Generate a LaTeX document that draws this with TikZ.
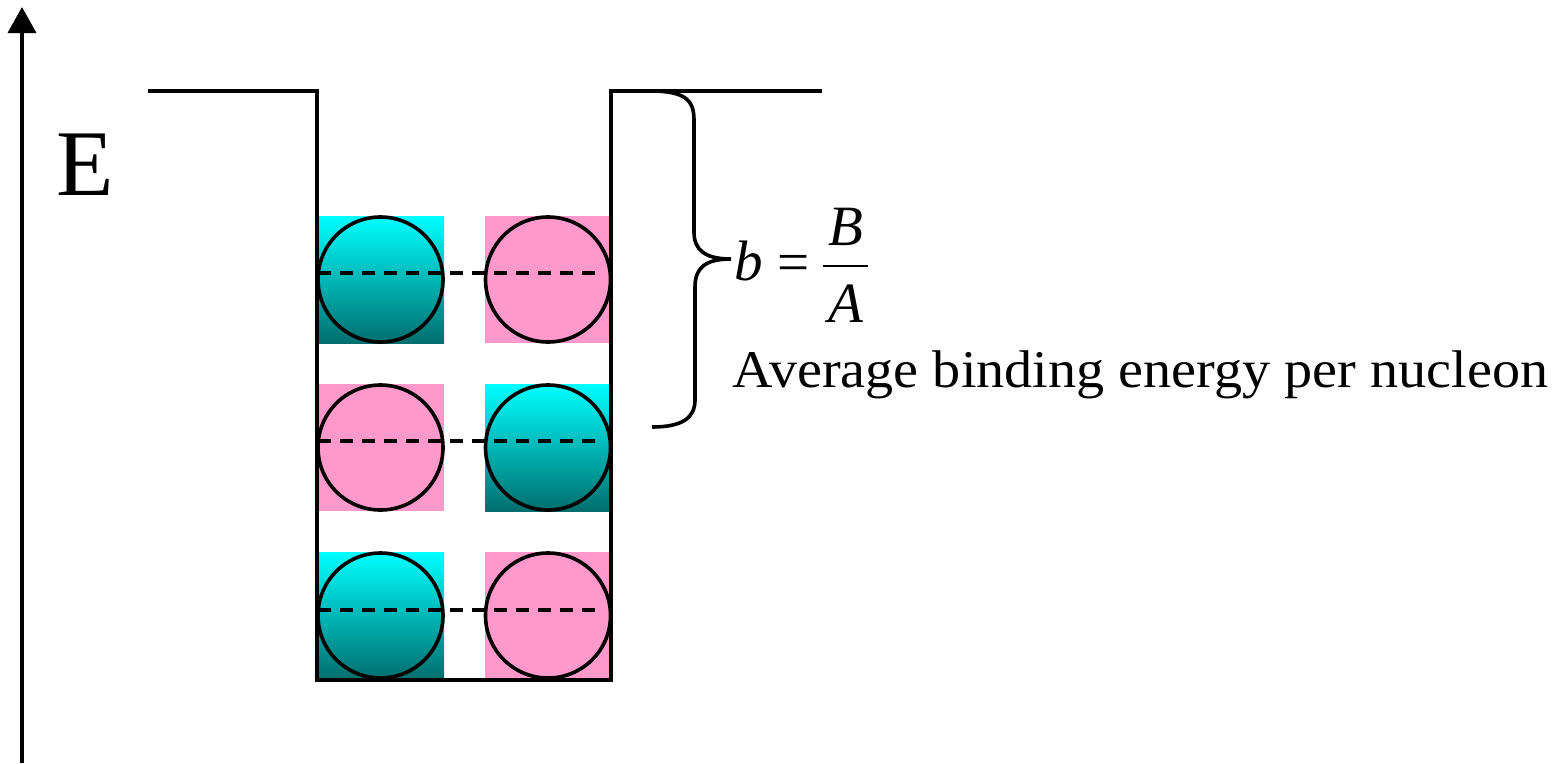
\documentclass[tikz,border=0pt]{standalone}
\usepackage{fontspec}
\setmainfont{Liberation Serif}
\usetikzlibrary{arrows.meta}
\definecolor{pinkfill}{HTML}{FF99CC}
\definecolor{tealmid}{RGB}{0,200,200}
\definecolor{tealdark}{RGB}{0,110,110}
\begin{document}
\begin{tikzpicture}[x=1pt,y=-1pt,line width=3.6pt,
  cyanbox/.style={top color=cyan,middle color=tealmid,bottom color=tealdark,draw=none},
  pinkbox/.style={fill=pinkfill,draw=none},
  ball/.style={draw=black,line width=3.6pt},
  pairline/.style={draw=black,line width=3.6pt,dash pattern=on 13pt off 9pt},
  wall/.style={draw=black,line width=3.6pt},
  fml/.style={inner sep=0,anchor=base,font=\fontsize{57}{62}\selectfont}]
\useasboundingbox (0,0) rectangle (1552,763);
% energy axis
\coordinate (axbot) at (22,763);
\coordinate (axtop) at (22,7);
\draw[-{Triangle[width=28pt,length=26pt]}] (axbot) -- (axtop);
\node[font=\fontsize{94}{98}\selectfont,inner sep=0,anchor=base west] (E) at (55,195) {E};
% boxes
\foreach \r/\yt/\ym/\ltype/\rtype in {1/216/273/cyanbox/pinkbox,2/384/441/pinkbox/cyanbox,3/552/610/cyanbox/pinkbox}{
  \path[\ltype] (317,\yt) rectangle (444,\yt+127);
  \path[\rtype] (485,\yt) rectangle (611,\yt+127);
  \draw[ball] (380.5,\yt+63.5) circle[radius=62.5];
  \draw[ball] (548,\yt+63.5) circle[radius=62.5];
  \draw[pairline] (318,\ym) -- (600,\ym);
}
% well
\coordinate (w1) at (148,91);
\coordinate (w2) at (317,91);
\coordinate (w3) at (317,680);
\coordinate (w4) at (611,680);
\coordinate (w5) at (611,91);
\coordinate (w6) at (822,91);
\draw[wall] (w1) -- (w2) -- (w3) -- (w4) -- (w5) -- (w6);
% brace
\coordinate (btop) at (650,91);
\coordinate (btip) at (731,259);
\coordinate (bbot) at (652,427);
\draw[line width=3.6pt] (btop) .. controls (685,91) and (694,100) .. (694,120) -- (694,232)
   .. controls (694,250) and (705,259) .. (btip)
   .. controls (705,259) and (695,268) .. (695,287) -- (695,400)
   .. controls (695,418) and (682,427) .. (bbot);
% formula b = B/A
\node[fml] (fb) at (749,280) {\textit{b}};
\node[fml] (feq) at (793.5,281) {=};
\node[fml] (fB) at (845.5,245) {\textit{B}};
\node[fml] (fA) at (845.5,322) {\textit{A}};
\coordinate (barL) at (823,266);
\coordinate (barR) at (868,266);
\draw[line width=2.8pt] (barL) -- (barR);
\node[anchor=base west,inner sep=0,font=\fontsize{53}{60}\selectfont] (label) at (731,387)
  {\scalebox{1.06}[1]{Average binding energy per nucleon}};
\end{tikzpicture}
\end{document}
